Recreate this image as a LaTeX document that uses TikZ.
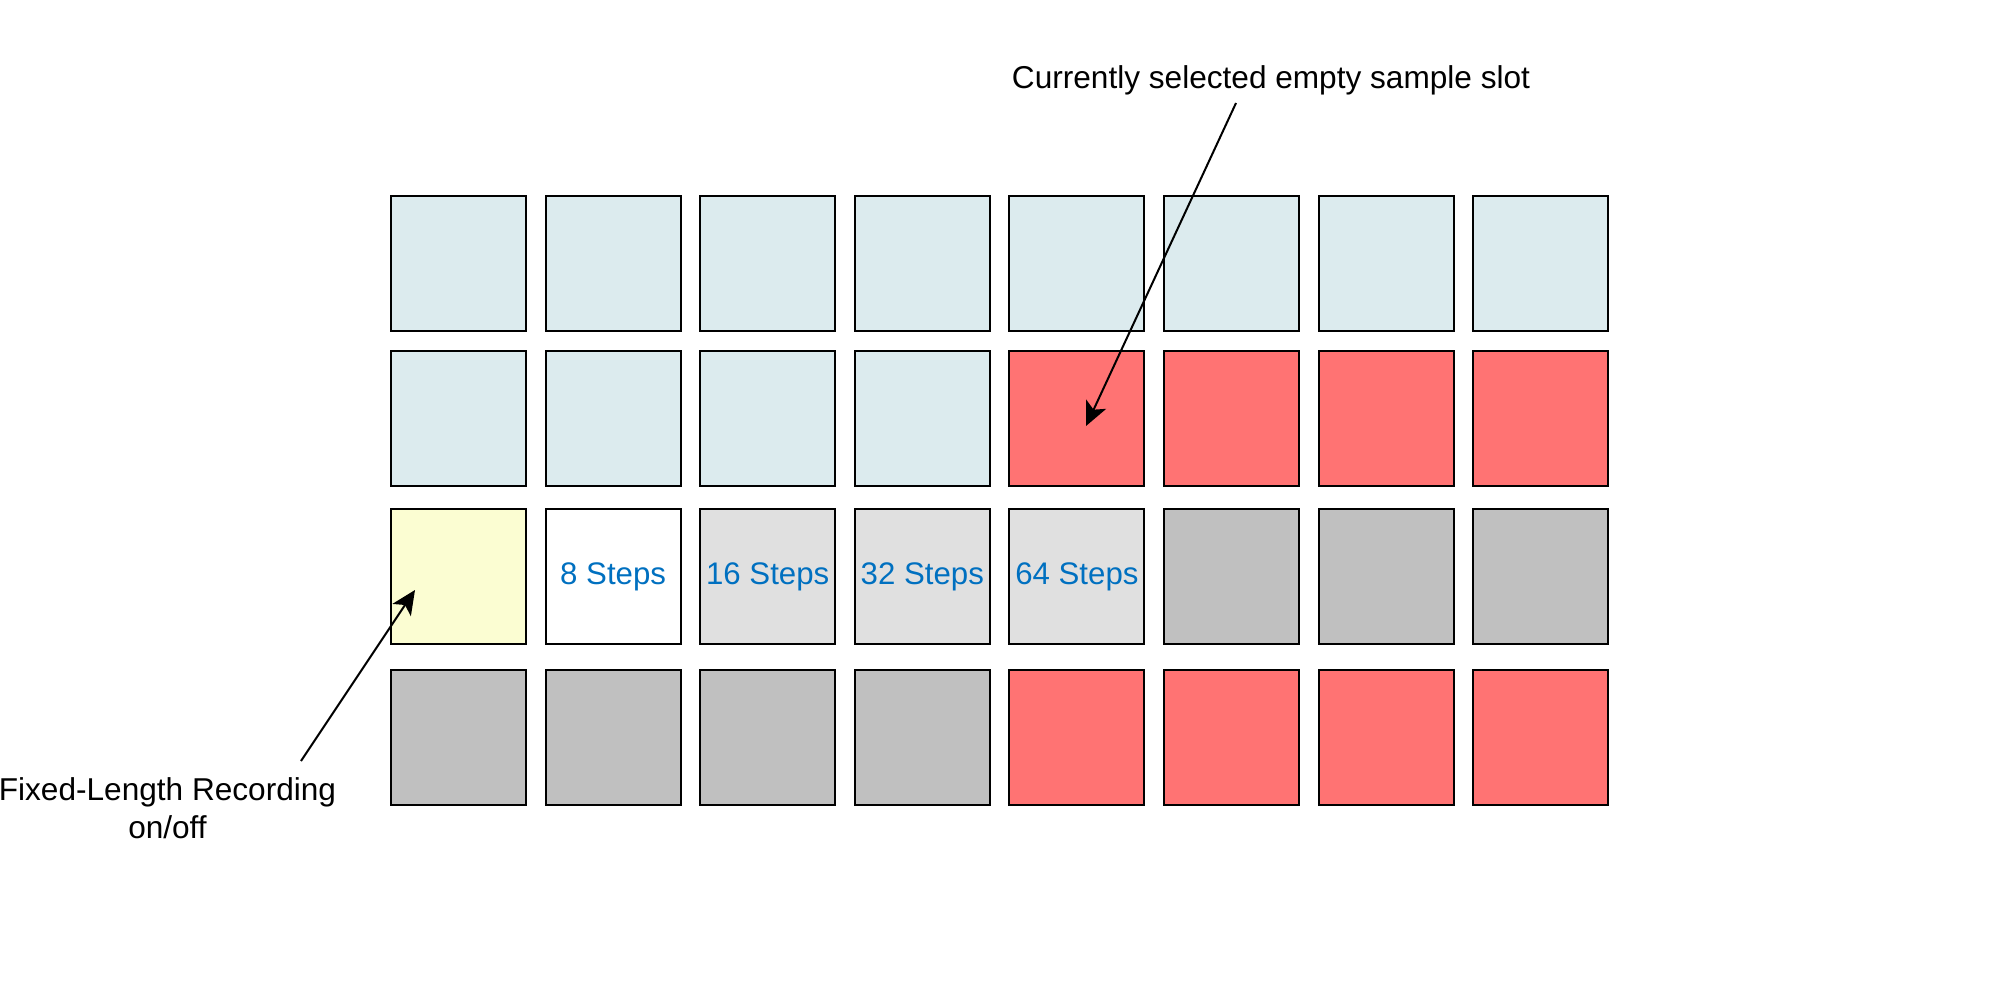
\documentclass[tikz,border=0pt]{standalone}
\usepackage{fontspec}
\setmainfont{Liberation Sans}
\usetikzlibrary{arrows.meta}
\definecolor{padblue}{HTML}{DCEBEE}
\definecolor{padred}{HTML}{FF7373}
\definecolor{padgray}{HTML}{C0C0C0}
\definecolor{padlgray}{HTML}{E0E0E0}
\definecolor{padyellow}{HTML}{FBFDD2}
\definecolor{padwhite}{HTML}{FFFFFF}
\definecolor{txtblue}{HTML}{0070C0}
\tikzset{
  pad/.style={draw=black, line width=1pt, minimum width=67.5pt, minimum height=67.5pt,
    inner sep=0pt, outer sep=0pt, anchor=center,
    font=\fontsize{15.6}{18.7}\selectfont, text=txtblue},
  lbl/.style={inner sep=0pt, font=\fontsize{15.8}{19}\selectfont, align=center},
  arr/.style={line width=1pt, -{Stealth[length=12pt, width=11pt, inset=3pt]}}
}
\begin{document}
\begin{tikzpicture}[x=0.5pt, y=-0.5pt]
\useasboundingbox (0,0) rectangle (2000,1001);
% row y centres: 263.5, 418.5, 576.5, 737.5 ; column x centres 458.5 + 154.6 i
\foreach \c/\col in {1/padblue,2/padblue,3/padblue,4/padblue,5/padblue,6/padblue,7/padblue,8/padblue}
  \node[pad, fill=\col] (p1-\c) at ({458.5+154.6*(\c-1)}, 263.5) {};
\foreach \c/\col in {1/padblue,2/padblue,3/padblue,4/padblue,5/padred,6/padred,7/padred,8/padred}
  \node[pad, fill=\col] (p2-\c) at ({458.5+154.6*(\c-1)}, 418.5) {};
\foreach \c/\col/\t in {1/padyellow/,2/padwhite/8 Steps,3/padlgray/16 Steps,4/padlgray/32 Steps,5/padlgray/64 Steps,6/padgray/,7/padgray/,8/padgray/}
  \node[pad, fill=\col] (p3-\c) at ({458.5+154.6*(\c-1)}, 576.5) {\t};
\foreach \c/\col in {1/padgray,2/padgray,3/padgray,4/padgray,5/padred,6/padred,7/padred,8/padred}
  \node[pad, fill=\col] (p4-\c) at ({458.5+154.6*(\c-1)}, 737.5) {};

\node[lbl, anchor=base] (toplbl) at (1271,88) {Currently selected empty sample slot};
\node[lbl, anchor=base] (botlbl) at (167.5,838) {Fixed-Length Recording\\on/off};

\coordinate (s1) at (1236,103);
\coordinate (t1) at (1086,426);
\coordinate (s2) at (301,761);
\coordinate (t2) at (415,590);
\draw[arr] (s1) -- (t1);
\draw[arr] (s2) -- (t2);
\end{tikzpicture}
\end{document}
